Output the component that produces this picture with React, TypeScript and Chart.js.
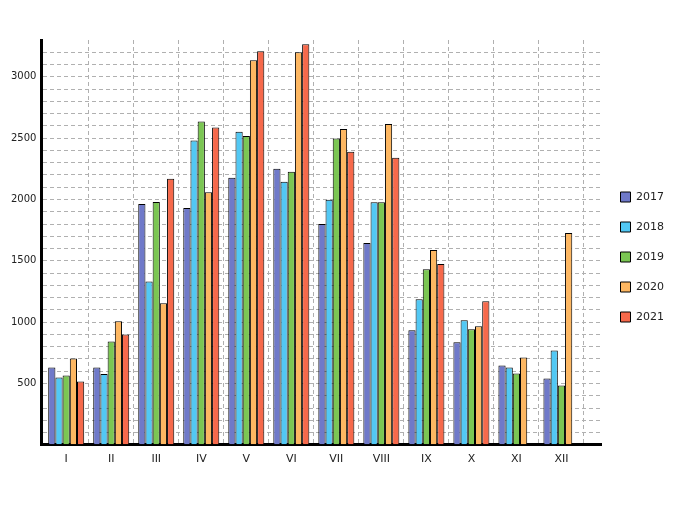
import { useEffect, useRef } from "react";
import { Chart, registerables } from "chart.js";

Chart.register(...registerables);

const months = ["I", "II", "III", "IV", "V", "VI", "VII", "VIII", "IX", "X", "XI", "XII"];
const years = ["2017", "2018", "2019", "2020", "2021"];

const values2017 = [630, 630, 1964, 1931, 2177, 2250, 1800, 1645, 933, 837, 646, 540];
const values2018 = [548, 578, 1331, 2480, 2553, 2144, 1997, 1977, 1187, 1015, 630, 769];
const values2019 = [565, 843, 1980, 2635, 2518, 2226, 2496, 1977, 1432, 941, 581, 483];
const values2020 = [704, 1007, 1154, 2059, 3134, 3200, 2575, 2615, 1588, 966, 712, 1727];
const values2021 = [516, 900, 2169, 2586, 3208, 3265, 2390, 2340, 1473, 1170, null, null];

const yTickLabels = [500, 1000, 1500, 2000, 2500, 3000];

const seriesValues = [values2017, values2018, values2019, values2020, values2021];
const colors = ["#6f79c9", "#52c8f4", "#7bc653", "#fdb762", "#f6694b"];

export default function App() {
  const canvasRef = useRef<HTMLCanvasElement>(null);
  const chartRef = useRef<Chart | null>(null);

  useEffect(() => {
    if (!canvasRef.current) return;
    if (chartRef.current) chartRef.current.destroy();

    Chart.defaults.font.family = "DejaVu Sans";
    Chart.defaults.color = "#222";

    chartRef.current = new Chart(canvasRef.current, {
      type: "bar",
      data: {
        datasets: years.map((year, i) => ({
          label: year,
          data: seriesValues[i].map((v, j) => ({ x: j, y: v })),
          backgroundColor: colors[i],
          borderColor: "#000",
          borderWidth: 1,
          categoryPercentage: 0.8,
          barPercentage: 1.0,
        })),
      },
      options: {
        animation: false,
        responsive: false,
        layout: { padding: { top: 40, left: 6, right: 6, bottom: 36 } },
        plugins: {
          legend: {
            position: "right",
            labels: {
              boxWidth: 10,
              boxHeight: 10,
              padding: 19,
              font: { size: 11 },
              color: "#222",
            },
          },
          tooltip: { enabled: false },
        },
        scales: {
          x: {
            type: "linear",
            min: -0.55,
            max: 11.89,
            offset: false,
            z: 1,
            grid: {
              offset: true,
              drawTicks: false,
              color: (ctx: any) => (ctx.index === 0 ? "rgba(0,0,0,0)" : "#b0b0b0"),
            },
            border: { color: "#000", width: 3, dash: [4, 3] },
            ticks: {
              stepSize: 1,
              includeBounds: false,
              autoSkip: false,
              maxRotation: 0,
              padding: 8,
              font: { size: 11 },
              callback: (v: any) => months[v as number] ?? "",
            },
          },
          y: {
            min: 0,
            max: 3300,
            grid: {
              drawTicks: false,
              color: (ctx: any) =>
                ctx.tick && (ctx.tick.value === 0 || ctx.tick.value === 3300) ? "rgba(0,0,0,0)" : "#b0b0b0",
            },
            border: { color: "#000", width: 3, dash: [4, 3] },
            ticks: {
              stepSize: 100,
              autoSkip: false,
              padding: 5,
              font: { size: 10 },
              callback: (v: any) => (yTickLabels.includes(v as number) ? String(v) : ""),
            },
          },
        },
      },
    });

    return () => {
      if (chartRef.current) {
        chartRef.current.destroy();
        chartRef.current = null;
      }
    };
  }, []);

  return (
    <div style={{ position: "absolute", left: 0, top: 0, width: 680, height: 510, background: "#fff" }}>
      <canvas ref={canvasRef} width={680} height={510} style={{ width: 680, height: 510 }}></canvas>
    </div>
  );
}
